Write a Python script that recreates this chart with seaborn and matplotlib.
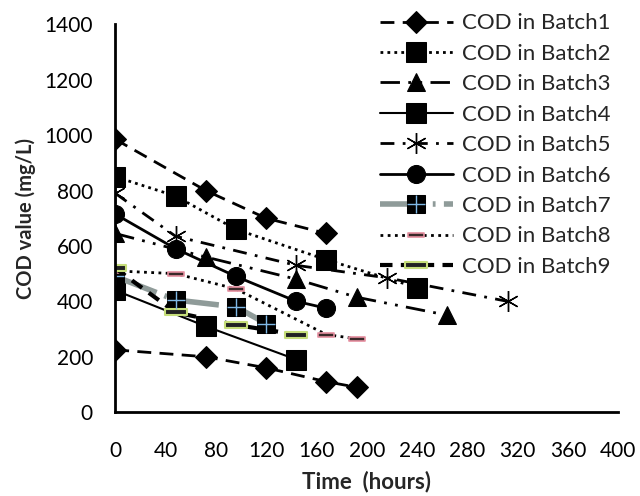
#!/usr/bin/env python3

import pandas as pd
import matplotlib.pyplot as plt
import seaborn as sns
from matplotlib.path import Path as MPath

# Time (hours) and COD (mg/L) for each batch
t1 = [0, 72, 120, 168]
cod1 = [985, 800, 700, 645]
t2 = [0, 48, 96, 168, 240]
cod2 = [850, 780, 660, 550, 450]
t3 = [0, 72, 144, 192, 264]
cod3 = [645, 560, 480, 415, 350]
t4 = [0, 72, 144]
cod4 = [440, 310, 190]
t5 = [0, 48, 144, 216, 312]
cod5 = [790, 635, 530, 485, 400]
t6 = [0, 48, 96, 144, 168]
cod6 = [715, 590, 490, 400, 375]
t7 = [0, 48, 96, 120]
cod7 = [490, 405, 380, 320]
t8 = [0, 48, 96, 168, 192]
cod8 = [510, 500, 445, 280, 265]
t9 = [0, 48, 96, 144]
cod9 = [520, 360, 315, 280]
# extra diamond series drawn without a legend entry
t10 = [0, 72, 120, 168, 192]
cod10 = [225, 200, 160, 110, 90]

labels = [f"COD in Batch{i}" for i in range(1, 10)]

sns.set_style("white")
plt.rcParams["font.family"] = ["Lato", "DejaVu Sans"]

bar_marker = MPath([(-1, -0.28), (1, -0.28), (1, 0.28), (-1, 0.28), (-1, -0.28)],
                   [MPath.MOVETO, MPath.LINETO, MPath.LINETO, MPath.LINETO, MPath.CLOSEPOLY])

fig = plt.figure(figsize=(6.4, 4.96), dpi=100)
ax = fig.add_axes([0.18, 0.169, 0.786, 0.782])

blk = dict(color="black", markerfacecolor="black", markeredgecolor="black")
styles = [
    dict(marker="D", markersize=11, linestyle=(0, (5, 3)), linewidth=2, **blk),
    dict(marker="s", markersize=14, linestyle=(0, (1, 1.5)), linewidth=2, **blk),
    dict(marker="^", markersize=13, linestyle=(0, (7, 3, 1, 3, 1, 3)), linewidth=2, **blk),
    dict(marker="s", markersize=14, linestyle="-", linewidth=1.5, **blk),
    dict(marker=(6, 2, 0), markersize=15, markeredgewidth=1, linestyle=(0, (5, 3, 1, 3)), linewidth=2, **blk),
    dict(marker="o", markersize=13, linestyle="-", linewidth=2, **blk),
    dict(marker="s", markersize=13, linestyle=(0, (8, 1.5, 0.5, 1.5)), linewidth=4, color="#8f9b99",
         markerfacecolor="black", markeredgecolor="black"),
    dict(marker=bar_marker, markersize=11, markeredgewidth=1.2, linestyle=(0, (1, 1.6)), linewidth=2,
         color="black", markerfacecolor="#3a2a2a", markeredgecolor="#e58fa0"),
    dict(marker=bar_marker, markersize=16, markeredgewidth=1.5, linestyle=(0, (3, 2)), linewidth=3,
         color="black", markerfacecolor="#222222", markeredgecolor="#c6de7a"),
]

series = [(t1, cod1), (t2, cod2), (t3, cod3), (t4, cod4), (t5, cod5),
          (t6, cod6), (t7, cod7), (t8, cod8), (t9, cod9)]

handles = []
for (t, c), label, st in zip(series, labels, styles):
    df = pd.DataFrame({"Time": t, "COD": c})
    n_before = len(ax.lines)
    sns.lineplot(data=df, x="Time", y="COD", ax=ax, **st)
    handles.append(ax.lines[n_before])

# light blue cross on top of the Batch7 squares
cross_df = pd.DataFrame({"Time": t7, "COD": cod7})
n_before = len(ax.lines)
sns.lineplot(data=cross_df, x="Time", y="COD", ax=ax, marker="+", markersize=13,
             markeredgewidth=1, linestyle="none", color="#7fb8e6", markeredgecolor="#7fb8e6")
handles[6] = (handles[6], ax.lines[n_before])

df10 = pd.DataFrame({"Time": t10, "COD": cod10})
sns.lineplot(data=df10, x="Time", y="COD", ax=ax, **styles[0])

ax.set_xlim(0, 400)
ax.set_ylim(0, 1400)
ax.set_xticks(range(0, 401, 40))
ax.set_yticks(range(0, 1401, 200))
ax.set_xlabel("Time  (hours)", fontsize=16, fontweight="bold", labelpad=7)
ax.set_ylabel("COD value (mg/L)", fontsize=14.5, fontweight="bold", labelpad=6)

for side in ["top", "right"]:
    ax.spines[side].set_visible(False)
for side in ["left", "bottom"]:
    ax.spines[side].set_linewidth(2)
    ax.spines[side].set_color("black")
ax.tick_params(axis="both", direction="out", length=6, width=2, labelsize=15, colors="black")
ax.tick_params(axis="x", pad=15)
ax.tick_params(axis="y", pad=10)
ax.grid(False)

fig.legend(handles, labels, loc="upper right", bbox_to_anchor=(0.975, 1.0), frameon=False,
           fontsize=16, handlelength=3.3, labelspacing=0.47, numpoints=1, handletextpad=0.4,
           borderaxespad=0.2)

plt.savefig("out.png", dpi=100)
plt.close()
